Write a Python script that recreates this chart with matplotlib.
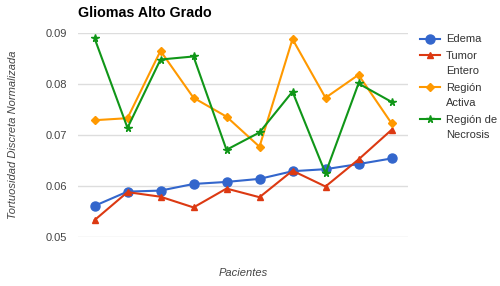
import numpy as np
import matplotlib
matplotlib.use("Agg")
import matplotlib.pyplot as plt
from matplotlib.lines import Line2D

plt.rcParams['font.family'] = ['Liberation Sans', 'DejaVu Sans']

pacientes = np.arange(10)
edema = [0.0561, 0.0589, 0.0591, 0.0604, 0.0608, 0.0614, 0.0629, 0.0633, 0.0643, 0.0654]
tumor_entero = [0.0533, 0.0588, 0.0579, 0.0558, 0.0595, 0.0578, 0.0630, 0.0599, 0.0652, 0.0710]
region_activa = [0.0729, 0.0733, 0.0865, 0.0773, 0.0736, 0.0677, 0.0888, 0.0773, 0.0818, 0.0723]
region_necrosis = [0.0890, 0.0714, 0.0848, 0.0854, 0.0671, 0.0705, 0.0785, 0.0625, 0.0801, 0.0765]
yticks = [0.05, 0.06, 0.07, 0.08, 0.09]

W, H = 500, 286
fig = plt.figure(figsize=(5, 2.86), dpi=100)
ax = fig.add_axes([0.156, 0.1713, 0.66, 0.7133])

series = [
    (edema, ['Edema'], '#3366CC', 'o', 6.5),
    (tumor_entero, ['Tumor', 'Entero'], '#DC3912', '^', 4.5),
    (region_activa, ['Región', 'Activa'], '#FF9900', 'D', 4.3),
    (region_necrosis, ['Región de', 'Necrosis'], '#109618', '*', 5.5),
]
for vals, lab, col, mk, ms in series:
    ax.plot(pacientes, vals, color=col, marker=mk, markersize=ms, lw=1.5)

ax.set_xlim(-0.5, 9.5)
ax.set_ylim(0.05, 0.09)
ax.set_yticks(yticks)
ax.set_yticklabels(['%.2f' % t for t in yticks])
ax.set_xticks([])
ax.grid(axis='y', color='#dddddd', lw=1)
ax.set_axisbelow(True)
for s in ax.spines.values():
    s.set_visible(False)
ax.tick_params(axis='y', length=0, labelsize=8, labelcolor='#444444', pad=8)

ax.set_ylabel('Tortuosidad Discreta Normalizada', fontsize=8, style='italic', color='#444444', labelpad=20)
ax.set_xlabel('Pacientes', fontsize=8, style='italic', color='#444444', labelpad=22)
fig.text(0.156, 0.955, 'Gliomas Alto Grado', fontsize=10.3, fontweight='bold', ha='left', va='center')

# legend drawn by hand so wrapped labels keep the reference spacing
y = 38.5
for vals, lab, col, mk, ms in series:
    fy = 1 - y / H
    fig.add_artist(Line2D([420 / W, 440 / W], [fy, fy], color=col, lw=1.5))
    fig.add_artist(Line2D([430 / W], [fy], color=col, marker=mk, markersize=ms))
    for i, line in enumerate(lab):
        fig.text(446 / W, 1 - (y + 1 + i * 15) / H, line, fontsize=8, color='#333333',
                 ha='left', va='center')
    y += 15 * len(lab) + 1.7

fig.savefig('out.png', dpi=100)
